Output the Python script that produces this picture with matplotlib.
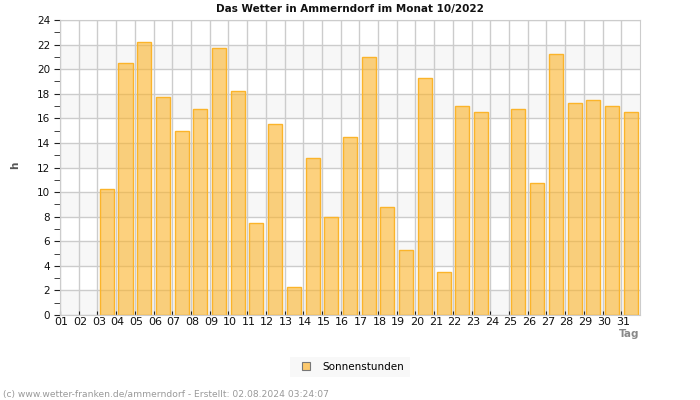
import matplotlib
matplotlib.use("Agg")
import matplotlib.pyplot as plt
from matplotlib.lines import Line2D
import matplotlib.transforms as mtransforms
import numpy as np

days = [f"{d:02d}" for d in range(1, 32)]
sun_days = [3, 4, 5, 6, 7, 8, 9, 10, 11, 12, 13, 14, 15, 16, 17, 18, 19, 20, 21, 22, 23,
            25, 26, 27, 28, 29, 30, 31]
sun_hours = [10.25, 20.5, 22.2, 17.7, 14.95, 16.75, 21.7, 18.2, 7.47, 15.52, 2.26, 12.76,
             7.96, 14.47, 20.97, 8.77, 5.27, 19.27, 3.48, 16.98, 16.5,
             16.75, 10.74, 21.22, 17.23, 17.5, 16.98, 16.5]
title = "Das Wetter in Ammerndorf im Monat 10/2022"
footer = "(c) www.wetter-franken.de/ammerndorf - Erstellt: 02.08.2024 03:24:07"

fig = plt.figure(figsize=(7, 4), dpi=100)
ax = fig.add_axes([60/700, 1-315/400, 580/700, 295/400])

# alternating bands
for y0 in range(0, 24, 4):
    ax.axhspan(y0, y0 + 2, color="#f7f7f7", zorder=0, lw=0)

ax.set_xlim(0, 31)
ax.set_ylim(0, 24)
ax.set_xticks(np.arange(31))
ax.set_xticklabels(days)
ax.set_yticks(np.arange(0, 25, 2))
ax.set_yticks(np.arange(1, 24, 2), minor=True)
ax.grid(True, which="major", color="#cccccc", lw=1, zorder=1)
ax.set_axisbelow(True)

x = np.array(sun_days) - 0.5
ax.bar(x, sun_hours, width=0.75, facecolor=(0.99, 0.70, 0.16, 0.6),
       edgecolor="#fbb42a", lw=1, zorder=2)

for s in ax.spines.values():
    s.set_color("#cccccc")
ax.tick_params(axis="x", direction="in", length=3, color="#222222", labelsize=8,
               pad=1.5, labelcolor="#111111")
ax.tick_params(axis="y", which="both", direction="out", length=4, color="#222222",
               labelsize=7.5, pad=3, labelcolor="#111111")
offset = mtransforms.ScaledTranslation(1.5/100, 0, fig.dpi_scale_trans)
for lab in ax.get_xticklabels():
    lab.set_transform(lab.get_transform() + offset)

fig.text(350/700, 1-9/400, title, ha="center", va="center", fontsize=7.5,
         fontweight="bold", color="#111111")
fig.text(15/700, 1-165/400, "h", ha="center", va="center", rotation=90,
         fontsize=7.5, fontweight="bold", color="#555555")
fig.text(629/700, 1-334/400, "Tag", ha="center", va="center", fontsize=7.5,
         fontweight="bold", color="#888888")
fig.text(3/700, 1-394/400, footer, ha="left", va="center", fontsize=6.6,
         color="#999999")

handle = Line2D([], [], marker="s", linestyle="none", markersize=6,
                markerfacecolor="#fcc96e", markeredgecolor="#777777", markeredgewidth=0.8)
leg = fig.legend([handle], ["Sonnenstunden"], loc="center",
                 bbox_to_anchor=(350/700, 1-367/400), frameon=True, fontsize=7.5,
                 handletextpad=0.6, borderpad=0.5, fancybox=False)
leg.get_frame().set_facecolor("#f7f7f7")
leg.get_frame().set_edgecolor("none")

fig.savefig("out.png", dpi=100)
